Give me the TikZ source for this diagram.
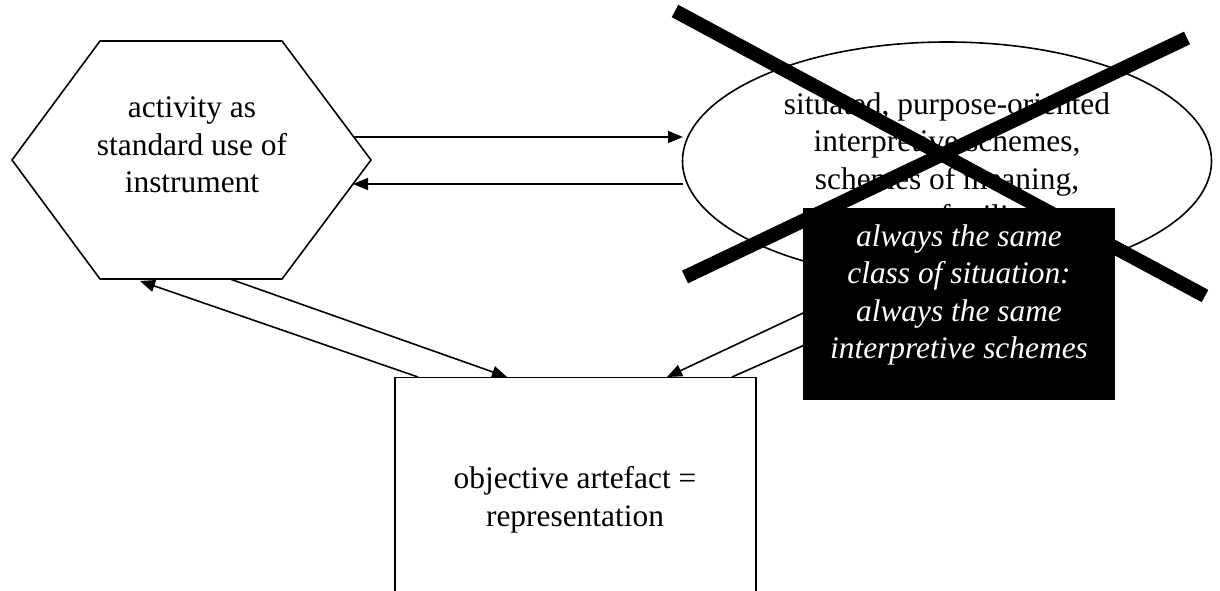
\documentclass[tikz,border=0pt]{standalone}
\usepackage{fontspec}
\setmainfont{Liberation Serif}
\usetikzlibrary{shapes.geometric,arrows.meta}
\begin{document}
\begin{tikzpicture}[x=1pt,y=-1pt,
  txt/.style={font=\fontsize{31.4pt}{37.5pt}\selectfont, align=center, inner sep=0pt},
  outline/.style={draw=black, line width=1.6pt},
  link/.style={draw=black, line width=1.6pt, -{Triangle[length=15pt,width=12pt]}},
  cross/.style={draw=black, line width=14pt},
  notebox/.style={fill=black, draw=none, minimum width=312pt, minimum height=192pt, inner sep=0pt}]
\useasboundingbox (0,0) rectangle (1220,591);

% hexagon: activity
\draw[outline, line join=miter] (12,160) -- (100,41) -- (282,41) -- (371,160) -- (282,279) -- (100,279) -- cycle;
\node[txt] (hex) at (192,145) {activity as\\standard use of\\instrument};

% ellipse: interpretive schemes
\node[outline, ellipse, minimum width=529pt, minimum height=238pt, inner sep=0pt] (ell) at (947,161) {};
\node[txt] (elltext) at (947,160) {situated, purpose-oriented\\interpretive schemes,\\schemes of meaning,\\schemes of utilisation};

% rectangle: artefact
\node[outline, rectangle, minimum width=361pt, minimum height=260pt, inner sep=0pt, anchor=north] (art) at (575.5,376.5) {};
\node[txt] (arttext) at (575,500) {objective artefact =\\representation};

% connector end points
\coordinate (hA) at (354,137);
\coordinate (hB) at (353,184);
\coordinate (hC) at (140,281);
\coordinate (hD) at (230,279);
\coordinate (eA) at (683,137);
\coordinate (eB) at (683,184);
\coordinate (eC) at (882,276);
\coordinate (eD) at (952,280);
\coordinate (aA) at (418,377);
\coordinate (aB) at (507,377);
\coordinate (aC) at (667,377);
\coordinate (aD) at (732,377);

% connectors
\draw[link] (hA) -- (eA);
\draw[link] (eB) -- (hB);
\draw[link] (aA) -- (hC);
\draw[link] (hD) -- (aB);
\draw[link] (eC) -- (aC);
\draw[link] (aD) -- (eD);

% crossing-out bars
\draw[cross] (675,11) -- (1205,296);
\draw[cross] (685,277) -- (1187,38);

% black note
\node[notebox] (note) at (959,304) {};
\node[txt, text=white, font=\fontsize{31.4pt}{37.5pt}\selectfont\itshape] (notetext) at (959,295) {always the same\\class of situation:\\always the same\\interpretive schemes};
\end{tikzpicture}
\end{document}
